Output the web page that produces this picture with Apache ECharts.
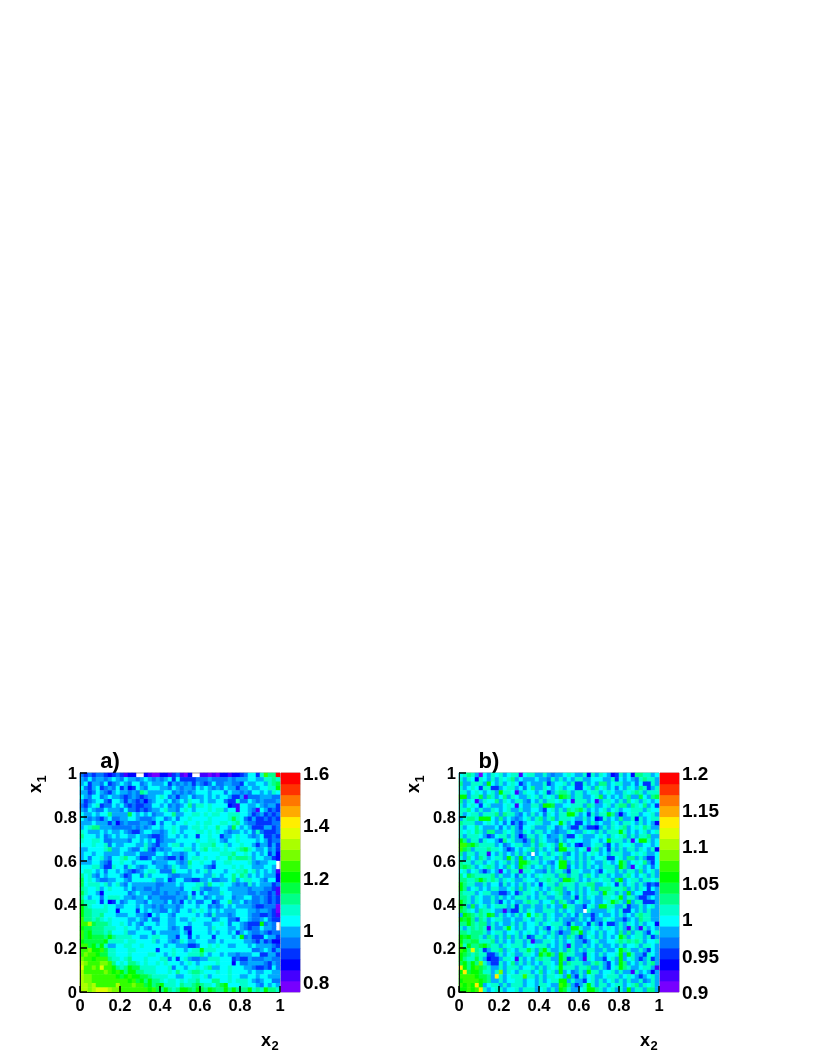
<!DOCTYPE html>
<html>
<head>
<meta charset="utf-8">
<style>
  html, body { margin: 0; padding: 0; background: #fff; }
  #chart { width: 817px; height: 1058px; }
</style>
</head>
<body>
<div id="chart"></div>
<script src="https://cdn.jsdelivr.net/npm/echarts@6/dist/echarts.min.js"></script>
<script>
// colour level of each cell, top row first, base 36, '.' = empty cell
const rowsA = [
  '43434 43234 3122. .2100 22134 102.. 11010 22122 34663 7b88j',
  '54645 54565 46554 56545 45636 33334 44544 44545 55665 57787',
  '56355 46345 65466 45655 56354 54535 43464 45544 36556 65789',
  '64356 34546 35236 54666 55465 45546 56545 46553 55655 6677a',
  '55346 54356 55454 87555 56645 45456 66566 64655 45466 56576',
  '65466 45655 43454 34556 76453 55645 56565 66533 51444 55544',
  '53456 64366 53543 42456 65645 65766 56556 64337 44654 54445',
  '43567 34465 64343 34466 56454 56857 76766 66231 66556 54553',
  '54654 46555 46443 43455 67554 67656 66767 75661 66541 65343',
  '65565 66855 55965 65645 56685 56677 67677 66777 66534 53434',
  '65454 35644 55665 44456 64564 66766 66766 66797 64353 34343',
  '55565 55352 45444 55436 46656 67667 67766 77678 65443 33344',
  '56788 55544 44454 54566 56676 55677 67668 66596 56533 35534',
  '76555 65655 65433 56655 45676 56667 76767 65455 65647 43334',
  '86665 64565 66556 55433 45665 65663 66766 35567 66545 63343',
  '76677 64455 55466 56563 45556 66667 66776 54667 66665 65344',
  '66676 67465 56665 57543 55677 56656 77786 67566 76653 55353',
  '55666 67855 66544 67435 45566 67756 78677 67667 89765 56453',
  '56656 65555 65556 44446 65655 45665 66666 77786 67656 56352',
  '56466 75466 78665 33465 54335 35677 67667 66878 88756 65532',
  '55566 54366 76656 66645 55665 45866 76646 67766 66754 5566.',
  '66677 53376 64765 45665 54576 55766 65436 66676 76655 5665.',
  '67765 64665 65434 56776 44486 66565 67566 65667 78675 65651',
  '86754 65666 53466 47566 66544 55566 65576 56686 87565 65552',
  '96765 44556 65466 66675 56346 64433 55644 55685 67766 54662',
  '96777 67567 54655 55554 45556 56667 75866 76654 54756 55534',
  '87667 56766 65645 54454 55555 46677 54455 66555 55455 54431',
  '97665 26666 66456 55544 54554 55636 46555 76655 55445 44341',
  '86566 46777 65545 56455 44445 54756 64565 56645 56644 54343',
  '97776 36236 45665 54655 54645 36564 46634 66855 64544 54343',
  'a8766 67665 56665 65545 45554 56665 66454 56565 55543 34440',
  'a8877 77662 66663 65655 44654 66576 76565 65556 66554 55430',
  'a8877 86665 55665 54265 66546 66665 65475 55456 66544 33431',
  'b8878 76766 66556 54644 66556 55676 66645 66443 66544 56433',
  'bbd98 88766 76565 46665 66556 66566 65566 76466 54333 a454.',
  'a9988 87776 67665 65466 66545 63366 66576 66556 54344 6554.',
  'b9a88 87866 67556 66646 55555 65266 66565 66563 56544 54344',
  'b9a99 98a87 77766 55677 66553 66365 66636 66656 a4533 36553',
  'a9999 9a777 76776 66675 66545 76556 66556 56666 65543 53422',
  'bb9a8 a7556 67766 76666 65665 55334 66767 66556 66565 55543',
  'bbcaa b9776 66776 66663 66676 65677 a7776 66666 66644 56535',
  'bcbba 99776 66766 66776 65676 66777 86566 56554 55566 33553',
  'cbbab bb877 67866 67666 77463 67544 55777 66634 33544 45544',
  'dcbbb ccb86 76887 67667 67666 56765 66667 66626 44555 54354',
  'ebbcb ebba8 78a99 77776 66746 65667 67855 66766 65543 34364',
  'dbbbb bcbab a8aa8 87776 66768 66788 76667 66766 66565 56655',
  'dccbb bbbba 9abaa 99877 77665 56677 67566 66766 55665 66555',
  'dccbb bbbbb bbab9 a8a88 76776 76778 66688 66767 77654 56644',
  'ddcdb bbbbd bbbcb b9a89 a7776 87789 87768 9a666 77665 46565',
  'ddcde eedcc bbbbb bbab9 8a878 aa98a 98a98 8a8a8 88a78 7a887'
];

const rowsB = [
  '67875 06576 75677 16775 57545 56765 57275 76523 75628 87756',
  '75762 76575 76785 65556 55475 75657 75566 65573 65654 78775',
  '85577 75a65 75676 35655 57356 67573 37565 88567 75564 63375',
  '75676 37733 56775 64685 57656 75663 36758 67564 65765 87357',
  '77567 65675 a7761 57665 67357 88757 75677 56765 57678 75777',
  'aa577 95875 68576 55767 57675 a9857 75567 95656 57855 96589',
  '85761 57668 57657 75465 75776 75617 77561 57765 75867 57656',
  '75676 36755 56761 65577 5aa95 56677 75875 56757 88587 68563',
  '77865 75576 56755 75566 53675 75878 97565 67567 56677 75766',
  '75677 57778 58775 46575 64765 77aa7 56375 77a85 25677 56675',
  '57887 aaa65 85654 56757 85785 77765 57562 37565 85572 75677',
  '87775 56765 64635 35667 75566 a7563 36575 65576 57765 75652',
  '75668 65556 46575 36675 55764 56533 75332 57576 78567 68755',
  '76768 75885 57675 47657 75654 55765 57675 75777 a7565 67567',
  '75777 65346 77575 24775 76455 75336 75556 76576 78575 77855',
  'a8577 47665 38675 53585 76554 75676 65566 56a77 75716 aa756',
  'bb9a8 77775 64567 75575 87675 a7563 25567 75365 76675 56656',
  'b9857 77877 65346 56785 75674 aa775 67178 56375 75775 76572',
  '85775 77165 75657 575.5 67576 75465 75676 56577 75567 67556',
  '75865 87567 75a75 a5657 57765 85765 75756 67336 75885 75336',
  '87757 75675 67575 aa877 56546 aa575 75765 57656 a8567 68536',
  '89875 67875 65865 a8756 75756 aa465 75756 57775 a8516 75646',
  '67567 53565 16577 17765 54757 75377 65565 36775 75775 85675',
  '86987 77785 75564 75657 67775 88577 57865 77565 57865 67575',
  '88778 a8787 57675 57665 77877 5aa87 56577 67758 a5677 57767',
  'a8775 57566 47565 75756 36775 87775 77885 56763 75675 75343',
  'a8567 56577 55675 85767 56578 85775 75685 88877 78575 76365',
  '87775 67755 33563 57765 75767 85465 75677 5a775 75a56 63335',
  '88757 65575 75657 77565 77557 75573 75765 57767 a5775 33565',
  'a8757 65575 36565 57877 56685 87546 75565 567a8 75a57 73335',
  'a8595 67567 77573 75575 57565 5a775 53675 aa775 57355 75675',
  '98765 87765 51533 75765 57775 75675 5.755 55765 73365 75755',
  '5a987 87a95 75657 56a68 75765 57564 75535 65565 75657 87755',
  'a9a85 87567 75565 57657 75765 75545 75635 57675 53565 87755',
  '88a87 88575 65575 75667 57677 75375 56375 36335 75765 75662',
  '75787 87175 57a65 75665 75367 575aa 75567 56765 75175 17565',
  '88788 87567 75667 56765 67575 35587 a5765 75665 85857 75367',
  'a9a88 75875 75857 57347 75675 75875 35675 75656 a8567 75735',
  'a8899 77785 75657 75715 57765 75675 53567 55667 87878 75667',
  'b7a88 9a877 57677 75667 77565 75175 57565 75565 75667 57765',
  'ba8e8 73577 85765 77975 8a755 75875 75775 57556 a8755 75365',
  'a9878 77335 75675 57765 a8a85 a8775 53765 75667 a5a75 53765',
  'a8779 75233 57761 75657 87755 a8357 51765 53675 a5675 35735',
  '9a8a8 c7533 75685 75756 57765 a5877 75578 75365 a8565 75785',
  'fa8ab 98755 75777 56675 75767 a7775 77855 75367 a8755 67751',
  'af9aa 97757 c5765 77756 85675 a5645 75a77 56675 75517 56525',
  'bbbba 9985f 75677 7b775 75776 75a53 75675 56777 56765 35675',
  'abbbb a9855 75667 75665 75677 aa575 53675 75675 75755 74575',
  'babaf a5677 57577 75665 77655 ba853 57a75 77567 75678 57675',
  'aabab f7567 75667 57775 67575 a9755 67aa8 75675 75a57 75885'
];

const cellIndex = Array.from(Array(50).keys());
const levels = Array.from(Array(20).keys());
const palette = ['#7700ff', '#4400ff', '#0000ff', '#0033ff', '#0077ff', '#00aaff', '#00ffff', '#00ffcc', '#00ff88', '#00ff44',
  '#00ff00', '#33ff00', '#77ff00', '#aaff00', '#ddff00', '#ffee00', '#ffaa00', '#ff7700', '#ff3300', '#ff0000'];

const barTicksA = [0.8, 1, 1.2, 1.4, 1.6];
const barTicksB = [0.9, 0.95, 1, 1.05, 1.1, 1.15, 1.2];

const font = 'Liberation Sans';

function cells(rows, lo, step) {
  const out = [];
  rows.forEach((row, r) => {
    const s = row.replace(/ /g, '');
    for (let c = 0; c < s.length; c++) {
      if (s[c] === '.') continue;
      out.push([c, 49 - r, lo + (parseInt(s[c], 36) + 0.5) * step]);
    }
  });
  return out;
}

function pieces(lo, step) {
  return levels.map((l) => ({ min: lo + l * step, max: lo + (l + 1) * step, color: palette[l] }));
}

function text(str, x, y, size, rotation) {
  return {
    type: 'text',
    x, y,
    rotation: rotation || 0,
    silent: true,
    style: { text: str, fill: '#000', font: 'bold ' + size + 'px "' + font + '"', align: 'center', verticalAlign: 'middle' },
  };
}

const grids = [];
const xAxes = [];
const yAxes = [];
const series = [];
const visualMaps = [];

const hiddenCat = (gridIndex, data) => ({ type: 'category', gridIndex, data, show: false });
const fmt = (v) => '{v|' + (+(+v).toFixed(2)) + '}';

function panel(left, rows, lo, hi, barTicks) {
  const step = (hi - lo) / 20;
  const g = grids.length;

  grids.push({ left, top: 773, width: 200, height: 219, show: true, borderColor: '#999', borderWidth: 1, backgroundColor: '#fff' });
  grids.push({ left: left + 201, top: 773, width: 19, height: 219, show: true, borderColor: '#aaa', borderWidth: 1 });

  const x0 = xAxes.length;
  const y0 = yAxes.length;
  xAxes.push(hiddenCat(g, cellIndex), hiddenCat(g + 1, ['']));
  yAxes.push(hiddenCat(g, cellIndex), hiddenCat(g + 1, levels));

  // the visible scales, on top of the hidden category axes the cells need
  const label = { color: '#000', fontFamily: font, fontWeight: 'bold', fontSize: 16.5 };
  xAxes.push({
    type: 'value', gridIndex: g, min: 0, max: 1, interval: 0.2, position: 'bottom', z: 10,
    axisLine: { show: true, onZero: false, lineStyle: { color: '#111', width: 1 } },
    axisTick: { inside: true, length: 6, lineStyle: { color: '#000', width: 1.5 } },
    axisLabel: { ...label, margin: 6 },
    splitLine: { show: false },
  });
  yAxes.push({
    type: 'value', gridIndex: g, min: 0, max: 1, interval: 0.2, position: 'left', z: 10,
    axisLine: { show: true, onZero: false, lineStyle: { color: '#111', width: 1 } },
    axisTick: { inside: true, length: 7, lineStyle: { color: '#000', width: 1.5 } },
    axisLabel: { margin: 3, formatter: fmt, rich: { v: { ...label, padding: [3, 0, 0, 0] } } },
    splitLine: { show: false },
  });
  yAxes.push({
    type: 'value', gridIndex: g + 1, min: lo, max: hi, position: 'right', z: 10,
    axisLine: { show: false },
    axisTick: { inside: true, length: 7, customValues: barTicks, lineStyle: { color: '#000', width: 1.5 } },
    axisLabel: { margin: 3, customValues: barTicks, formatter: fmt, rich: { v: { ...label, fontSize: 19, padding: [4, 0, 0, 0] } } },
    splitLine: { show: false },
  });

  const s = series.length;
  series.push({
    type: 'heatmap', xAxisIndex: x0, yAxisIndex: y0, data: cells(rows, lo, step),
    progressive: 0, emphasis: { disabled: true }, silent: true,
  });
  series.push({
    type: 'heatmap', xAxisIndex: x0 + 1, yAxisIndex: y0 + 1,
    data: levels.map((l) => [0, l, lo + (l + 0.5) * step]),
    emphasis: { disabled: true }, silent: true,
  });
  visualMaps.push({ type: 'piecewise', show: false, seriesIndex: [s, s + 1], dimension: 2, pieces: pieces(lo, step) });
}

panel(80, rowsA, 0.76, 1.6, barTicksA);
panel(459, rowsB, 0.9, 1.2, barTicksB);

const chart = echarts.init(document.getElementById('chart'), null, { renderer: 'canvas' });
chart.setOption({
  animation: false,
  backgroundColor: '#fff',
  grid: grids,
  xAxis: xAxes,
  yAxis: yAxes,
  visualMap: visualMaps,
  series,
  graphic: [
    text('a)', 110, 762, 22),
    text('b)', 489, 762, 22),
    text('x', 266, 1041, 18),
    text('2', 275, 1046, 13),
    text('x', 645, 1041, 18),
    text('2', 654, 1046, 13),
    text('x', 36, 788, 18, Math.PI / 2),
    text('1', 42, 779, 13, Math.PI / 2),
    text('x', 414, 788, 18, Math.PI / 2),
    text('1', 420, 779, 13, Math.PI / 2),
  ],
});
</script>
</body>
</html>
